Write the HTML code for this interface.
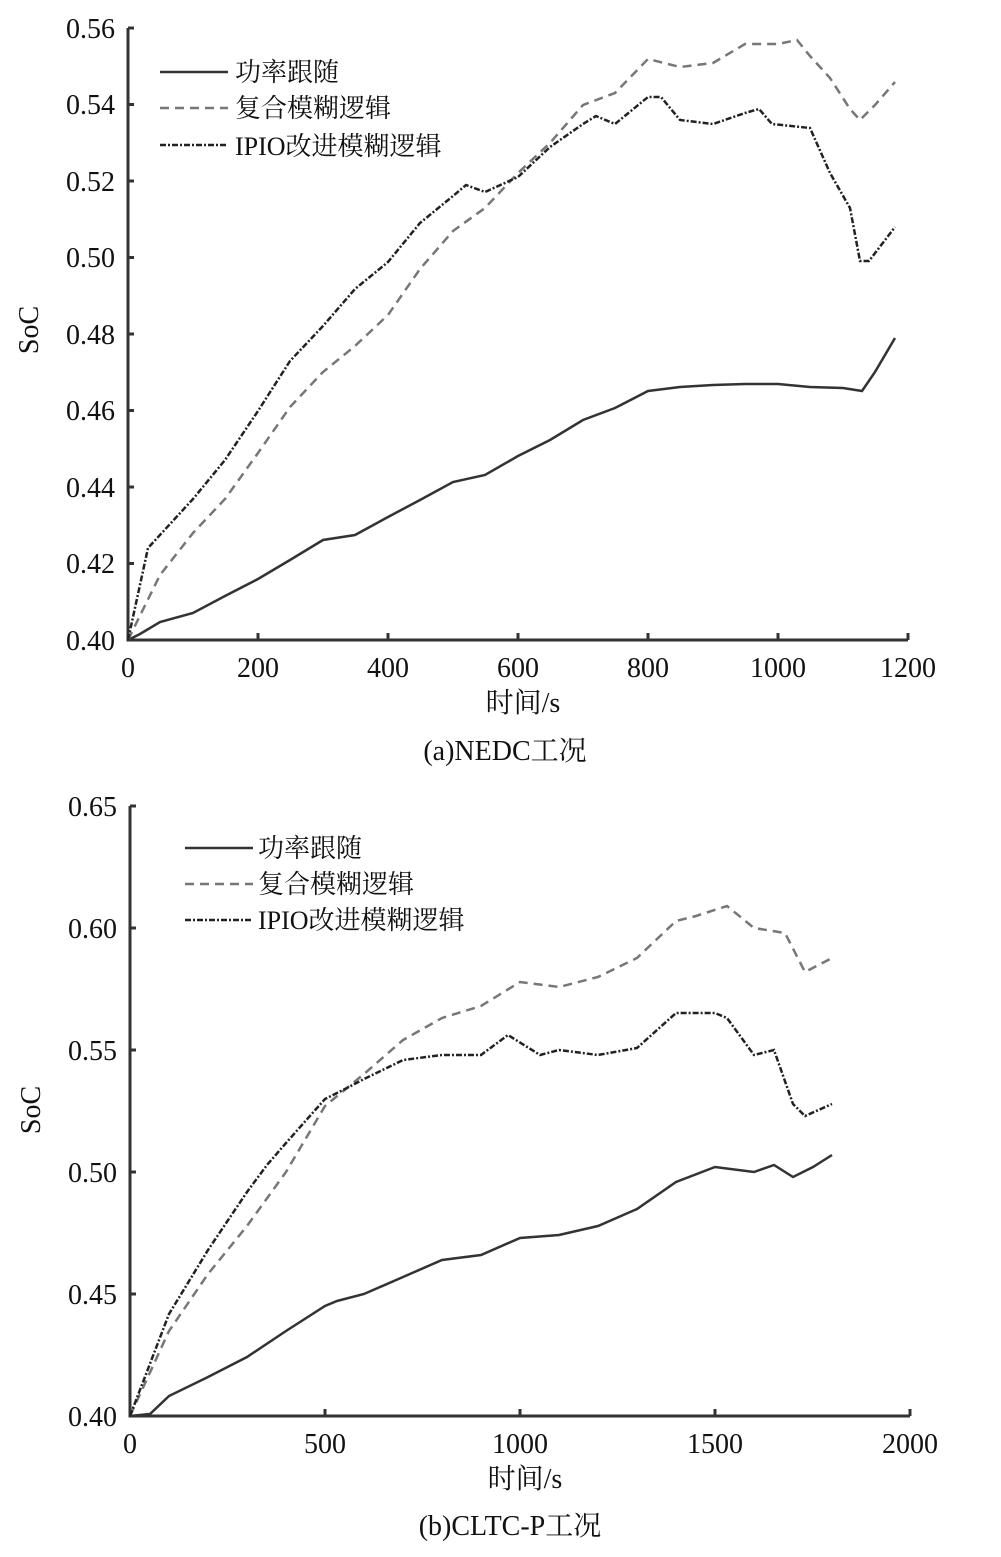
<!DOCTYPE html><html><head><meta charset="utf-8"><style>body{margin:0;background:#fff}</style></head><body>
<svg width="1001" height="1552" xmlns="http://www.w3.org/2000/svg" font-family="Liberation Serif, Noto Serif CJK SC, serif" font-size="28" fill="#111">
<g stroke="#333" stroke-width="3" fill="none">
<path d="M128 28V640H908M128 28h6M128 104.5h6M128 181h6M128 257.5h6M128 334h6M128 410.5h6M128 487h6M128 563.5h6M258 640v-7M388 640v-7M518 640v-7M648 640v-7M778 640v-7M908 640v-7"/>
<path d="M130 806V1416H910M130 806h6M130 928h6M130 1050h6M130 1172h6M130 1294h6M325 1416v-7M520 1416v-7M715 1416v-7M910 1416v-7"/>
</g>
<g text-anchor="end">
<text x="115" y="38">0.56</text><text x="115" y="114">0.54</text><text x="115" y="191">0.52</text><text x="115" y="267">0.50</text><text x="115" y="344">0.48</text><text x="115" y="420">0.46</text><text x="115" y="497">0.44</text><text x="115" y="573">0.42</text><text x="115" y="650">0.40</text>
<text x="117" y="816">0.65</text><text x="117" y="938">0.60</text><text x="117" y="1060">0.55</text><text x="117" y="1182">0.50</text><text x="117" y="1304">0.45</text><text x="117" y="1426">0.40</text>
</g>
<g text-anchor="middle">
<text x="128" y="677">0</text><text x="258" y="677">200</text><text x="388" y="677">400</text><text x="518" y="677">600</text><text x="648" y="677">800</text><text x="778" y="677">1000</text><text x="908" y="677">1200</text>
<text x="130" y="1453">0</text><text x="325" y="1453">500</text><text x="520" y="1453">1000</text><text x="715" y="1453">1500</text><text x="910" y="1453">2000</text>
<text x="523" y="712">时间/s</text><text x="505" y="760">(a)NEDC工况</text>
<text x="525" y="1488">时间/s</text><text x="510" y="1535">(b)CLTC-P工况</text>
<text transform="translate(38 330) rotate(-90)">SoC</text>
<text transform="translate(40 1110) rotate(-90)">SoC</text>
</g>
<g font-size="26">
<text x="235" y="81">功率跟随</text><text x="235" y="117">复合模糊逻辑</text><text x="235" y="155">IPIO改进模糊逻辑</text>
<text x="258" y="857">功率跟随</text><text x="258" y="893">复合模糊逻辑</text><text x="258" y="929">IPIO改进模糊逻辑</text>
</g>
<g fill="none" stroke-width="2.5">
<path d="M160 72h68M185 848h68" stroke="#333"/>
<path d="M160 108h68M185 884h68" stroke="#777" stroke-dasharray="9 6"/>
<path d="M160 145h68M185 920h68" stroke="#222" stroke-dasharray="6 2 2 2"/>
<path stroke="#333" d="M128 640L140 634L160 622L193 613L225 596L258 579L290 560L323 540L355 535L388 517L420 500L453 482L485 475L518 456L550 440L583 420L615 408L648 391L680 387L713 385L745 384L778 384L810 387L843 388L862 391L875 372L895 338"/>
<path stroke="#777" stroke-dasharray="9 6" d="M128 640L160 575L193 533L225 499L258 453L290 407L323 372L355 346L388 315L420 269L453 231L485 208L518 173L550 143L583 105L615 93L648 59L680 67L713 63L745 44L778 44L797 40L810 56L830 78L850 109L860 120L875 105L895 82"/>
<path stroke="#222" stroke-dasharray="6 2 2 2" d="M128 640L148 548L193 499L225 460L258 411L290 361L323 326L355 289L388 262L420 223L453 196L466 185L485 192L518 177L550 147L583 124L596 116L615 124L648 97L661 97L680 120L713 124L745 113L759 109L772 124L810 128L830 173L850 208L860 261L869 261L895 227"/>
<path stroke="#333" d="M130 1416L150 1414L169 1396L208 1377L247 1357L286 1331L325 1306L337 1301L364 1294L403 1277L442 1260L481 1255L520 1238L559 1235L598 1226L637 1209L676 1182L715 1167L754 1172L774 1165L793 1177L813 1167L832 1155"/>
<path stroke="#777" stroke-dasharray="9 6" d="M130 1416L169 1331L208 1274L247 1226L286 1172L325 1106L364 1074L403 1040L442 1018L481 1006L520 982L559 987L598 977L637 958L676 921L696 916L727 906L754 928L785 933L805 972L832 958"/>
<path stroke="#222" stroke-dasharray="6 2 2 2" d="M130 1416L169 1314L208 1250L247 1192L267 1165L286 1143L325 1099L345 1089L364 1079L403 1060L442 1055L481 1055L508 1035L540 1055L559 1050L598 1055L637 1048L676 1013L715 1013L727 1018L754 1055L774 1050L793 1104L805 1116L832 1104"/>
</g>
</svg>
</body></html>
